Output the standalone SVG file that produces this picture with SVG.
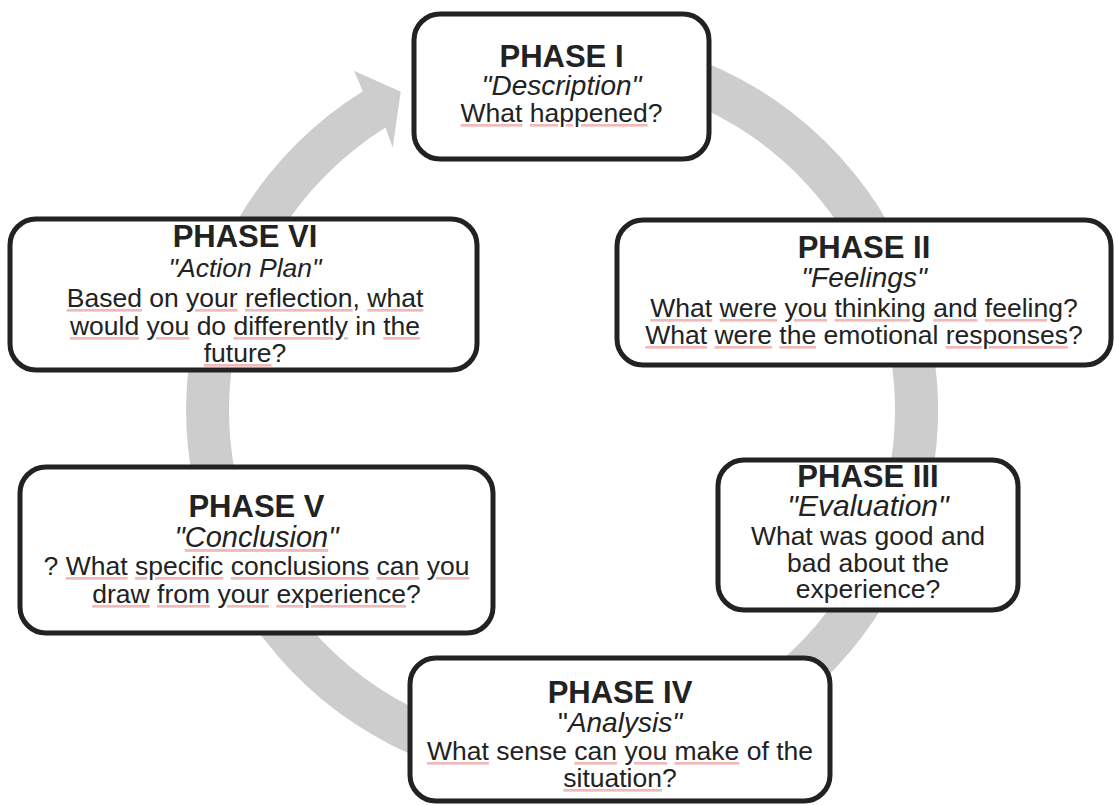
<svg xmlns="http://www.w3.org/2000/svg" width="1115" height="805" viewBox="0 0 1115 805">
  <style>
    .box{fill:#fff;stroke:#222;stroke-width:5}
    .t{font-family:"Liberation Sans",Arial,Helvetica,sans-serif;fill:#222;text-anchor:middle}
    .h{font-weight:bold;font-size:31px}
    .i{font-style:italic;font-size:28px}
    .b{font-size:26.5px}
    /* spell-check style marks under words */
    .sp{text-decoration:underline;text-decoration-thickness:1px;text-underline-offset:4px;fill:#f3b8b8}
    .k{fill:#222}
    .ring{fill:#cdcdcd}
  </style>

  <!-- cycle arrow running clockwise behind the phases -->
  <g id="connectors">
    <path class="ring" d="M702.9,61.4 A376,376 0 1,1 362.8,91.2 L354,70.7 L400.7,91.7 L392.7,147.7 L385.5,127.6 A333,333 0 1,0 686.7,101.2 Z"/>
  </g>

  <g id="phase1">
    <rect class="box" x="414" y="14" width="295" height="145" rx="26"/>
    <text class="t h" x="561.5" y="67">PHASE I</text>
    <text class="t i" x="561.5" y="95">"Description"</text>
    <text class="t b" x="561.5" y="122"><tspan class="sp"><tspan class="k">What</tspan></tspan> <tspan class="sp"><tspan class="k">happened</tspan></tspan>?</text>
  </g>

  <g id="phase2">
    <rect class="box" x="617" y="220" width="494" height="145" rx="26"/>
    <text class="t h" x="864" y="258">PHASE II</text>
    <text class="t i" x="864" y="287">"Feelings"</text>
    <text class="t b" x="864" y="317"><tspan class="sp"><tspan class="k">What</tspan></tspan> <tspan class="sp"><tspan class="k">were</tspan></tspan> <tspan class="sp"><tspan class="k">you</tspan></tspan> <tspan class="sp"><tspan class="k">thinking</tspan></tspan> <tspan class="sp"><tspan class="k">and</tspan></tspan> <tspan class="sp"><tspan class="k">feeling</tspan></tspan>?</text>
    <text class="t b" x="864" y="344"><tspan class="sp"><tspan class="k">What</tspan></tspan> <tspan class="sp"><tspan class="k">were</tspan></tspan> <tspan class="sp"><tspan class="k">the</tspan></tspan> emotional <tspan class="sp"><tspan class="k">responses</tspan></tspan>?</text>
  </g>

  <g id="phase3">
    <rect class="box" x="718" y="460" width="300" height="150" rx="26"/>
    <text class="t h" x="868" y="487">PHASE III</text>
    <text class="t i" x="868" y="516" style="font-size:30px">"Evaluation"</text>
    <text class="t b" x="868" y="545">What was good and</text>
    <text class="t b" x="868" y="572">bad about the</text>
    <text class="t b" x="868" y="598">experience?</text>
  </g>

  <g id="phase4">
    <rect class="box" x="410" y="658" width="420" height="143" rx="26"/>
    <text class="t h" x="620" y="703">PHASE IV</text>
    <text class="t i" x="620" y="732"><tspan style="font-style:normal">"</tspan>Analysis"</text>
    <text class="t b" x="620" y="760"><tspan class="sp"><tspan class="k">What</tspan></tspan> sense <tspan class="sp"><tspan class="k">can</tspan></tspan> <tspan class="sp"><tspan class="k">you</tspan></tspan> <tspan class="sp"><tspan class="k">make</tspan></tspan> of the</text>
    <text class="t b" x="620" y="787"><tspan class="sp"><tspan class="k">situation</tspan></tspan>?</text>
  </g>

  <g id="phase5">
    <rect class="box" x="20" y="467" width="473" height="166" rx="26"/>
    <text class="t h" x="256.5" y="517">PHASE V</text>
    <text class="t i" x="256.5" y="547" style="font-size:29px">"<tspan class="sp"><tspan class="k">Conclusion</tspan></tspan>"</text>
    <text class="t b" x="256.5" y="575">? <tspan class="sp"><tspan class="k">What</tspan></tspan> <tspan class="sp"><tspan class="k">specific</tspan></tspan> <tspan class="sp"><tspan class="k">conclusions</tspan></tspan> <tspan class="sp"><tspan class="k">can</tspan></tspan> <tspan class="sp"><tspan class="k">you</tspan></tspan></text>
    <text class="t b" x="256.5" y="603"><tspan class="sp"><tspan class="k">draw</tspan></tspan> <tspan class="sp"><tspan class="k">from</tspan></tspan> <tspan class="sp"><tspan class="k">your</tspan></tspan> <tspan class="sp"><tspan class="k">experience</tspan></tspan>?</text>
  </g>

  <g id="phase6">
    <rect class="box" x="10" y="219" width="467" height="151" rx="26"/>
    <text class="t h" x="245" y="247">PHASE VI</text>
    <text class="t i" x="245" y="277" style="font-size:26.5px">"Action Plan"</text>
    <text class="t b" x="245" y="307"><tspan class="sp"><tspan class="k">Based</tspan></tspan> on <tspan class="sp"><tspan class="k">your</tspan></tspan> <tspan class="sp"><tspan class="k">reflection</tspan></tspan>, <tspan class="sp"><tspan class="k">what</tspan></tspan></text>
    <text class="t b" x="245" y="335"><tspan class="sp"><tspan class="k">would</tspan></tspan> <tspan class="sp"><tspan class="k">you</tspan></tspan> do <tspan class="sp"><tspan class="k">differently</tspan></tspan> in <tspan class="sp"><tspan class="k">the</tspan></tspan></text>
    <text class="t b" x="245" y="362"><tspan class="sp"><tspan class="k">future</tspan></tspan>?</text>
  </g>
</svg>
